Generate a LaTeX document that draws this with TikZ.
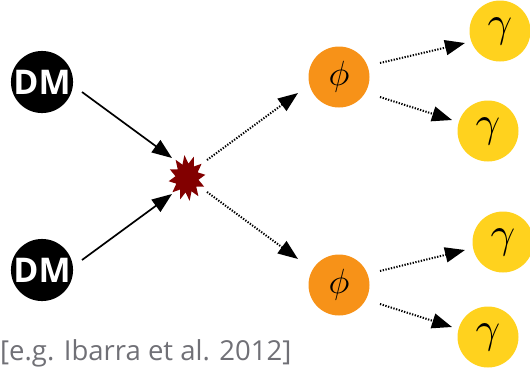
\documentclass[tikz,border=0pt]{standalone}
\usepackage{graphicx}
\usepackage{fontspec}
\setsansfont{Open Sans}
\usetikzlibrary{arrows.meta,shapes.geometric}
\definecolor{dmblack}{RGB}{0,0,0}
\definecolor{phiorange}{RGB}{247,146,24}
\definecolor{gamyellow}{RGB}{255,210,30}
\definecolor{starred}{RGB}{130,0,0}
\definecolor{refgray}{RGB}{112,112,118}
\newcommand{\bigphi}{\scalebox{3.5}{$\phi$}}
\newcommand{\biggam}{\scalebox{4.3}{$\gamma$}}
\tikzset{
  dm/.style={circle,fill=dmblack,minimum size=61pt,inner sep=0pt,text=white,
    font=\sffamily\bfseries\fontsize{34}{34}\selectfont},
  phinode/.style={circle,fill=phiorange,minimum size=61pt,inner sep=0pt},
  gamnode/.style={circle,fill=gamyellow,minimum size=61pt,inner sep=0pt},
  burst/.style={star,star points=12,star point ratio=1.6,fill=starred,
    minimum size=37pt,inner sep=0pt,yscale=1.25,rotate=8},
  solidarrow/.style={line width=1.7pt,-{Triangle[length=20pt,width=15pt]}},
  dotarrow/.style={line width=2pt,dash pattern=on 1.3pt off 1.5pt,
    -{Triangle[length=20pt,width=15pt]}},
}
\begin{document}
\begin{tikzpicture}[x=1pt,y=-1pt]
\useasboundingbox (0,0) rectangle (530,368);
\node[dm] (dm1) at (42,82) {DM};
\node[dm] (dm2) at (42,270) {DM};
\node[burst] (x) at (187,178) {};
\node[phinode] (p1) at (339,77) {\bigphi};
\node[phinode] (p2) at (339,285) {\bigphi};
\node[gamnode] (g1) at (500,31) {\biggam};
\node[gamnode] (g2) at (488,131) {\biggam};
\node[gamnode] (g3) at (503,242) {\biggam};
\node[gamnode] (g4) at (488,337) {\biggam};
\node[anchor=base west,inner sep=0pt,text=refgray,
  font=\sffamily\fontsize{27.5}{27.5}\selectfont] (ref) at (0,360) {[e.g. Ibarra et al. 2012]};
\coordinate (a1s) at (82,92);  \coordinate (a1e) at (172,158);
\coordinate (a2s) at (82,260); \coordinate (a2e) at (172,194);
\coordinate (d1s) at (207,160); \coordinate (d1e) at (298,93);
\coordinate (d2s) at (207,192); \coordinate (d2e) at (298,259);
\coordinate (e1s) at (380,63);  \coordinate (e1e) at (465,43);
\coordinate (e2s) at (380,97);  \coordinate (e2e) at (452,120);
\coordinate (e3s) at (380,271); \coordinate (e3e) at (465,250);
\coordinate (e4s) at (380,304); \coordinate (e4e) at (452,327);
\draw[solidarrow] (a1s) -- (a1e);
\draw[solidarrow] (a2s) -- (a2e);
\draw[dotarrow] (d1s) -- (d1e);
\draw[dotarrow] (d2s) -- (d2e);
\draw[dotarrow] (e1s) -- (e1e);
\draw[dotarrow] (e2s) -- (e2e);
\draw[dotarrow] (e3s) -- (e3e);
\draw[dotarrow] (e4s) -- (e4e);
\end{tikzpicture}
\end{document}
